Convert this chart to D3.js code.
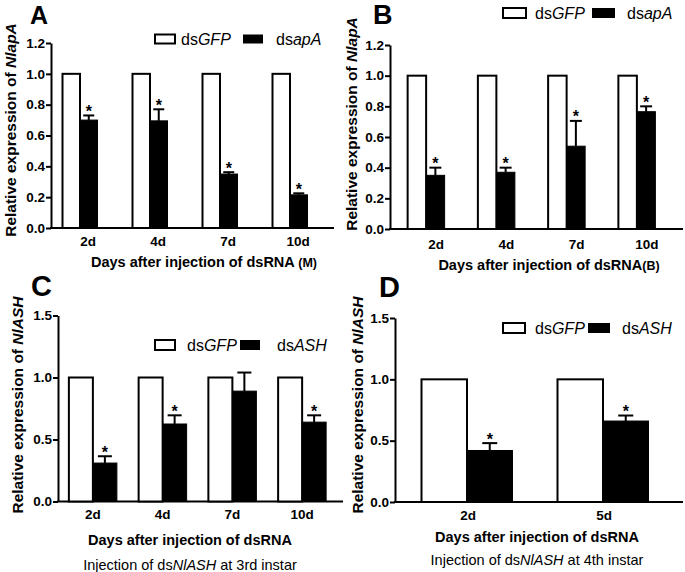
<!DOCTYPE html>
<html>
<head>
<meta charset="utf-8">
<script src="https://cdn.jsdelivr.net/npm/d3@7"></script>
<style>
  body { margin: 0; background: #fff; }
  svg { font-family: Arial, "Liberation Sans", Helvetica, sans-serif; }
  .axis text { font-weight: bold; font-size: 13.5px; fill: #000; }
  .axis path, .axis line { stroke: #000; stroke-width: 2px; }
</style>
</head>
<body>
<svg id="chart" width="685" height="572"></svg>
<script>
// categories
const daysABC = ["2d", "4d", "7d", "10d"];
const daysD = ["2d", "5d"];
const ticksAB = [0, 0.2, 0.4, 0.6, 0.8, 1.0, 1.2];
const ticksCD = [0, 0.5, 1.0, 1.5];

// series values
const gfpABC = [1, 1, 1, 1];
const gfpD = [1, 1];
const apaM = [0.70, 0.695, 0.35, 0.215];
const apaMErr = [0.03, 0.075, 0.012, 0.01];
const apaB = [0.35, 0.37, 0.54, 0.765];
const apaBErr = [0.05, 0.03, 0.165, 0.035];
const ash3 = [0.31, 0.625, 0.89, 0.64];
const ash3Err = [0.055, 0.07, 0.15, 0.055];
const ash3Sig = [true, true, false, true];
const ash4 = [0.42, 0.66];
const ash4Err = [0.06, 0.045];
const sig4 = [true, true, true, true];

const svg = d3.select("#chart");

function panel(p) {
  const g = svg.append("g");

  const y = d3.scaleLinear().domain([0, p.ymax]).range([p.y0, p.y1]);
  const x = d3.scaleBand().domain(p.cats).range(p.xr).padding(0);
  const bw = p.bw;

  const rows = p.cats.map((c, i) => ({ c: c, gfp: p.gfp[i], kd: p.kd[i], err: p.err[i], sig: p.sig[i] }));

  // Y AXIS
  g.append("g")
    .attr("class", "axis")
    .attr("transform", "translate(" + p.xl + ",0)")
    .call(d3.axisLeft(y).tickValues(p.ticks).tickFormat(d3.format(".1f"))
      .tickSize(5).tickSizeOuter(0).tickPadding(1));

  // X AXIS line + labels
  g.append("line")
    .attr("x1", p.xl - 1).attr("x2", p.xend)
    .attr("y1", y(0)).attr("y2", y(0))
    .attr("stroke", "#000").attr("stroke-width", 2);

  const xa = g.append("g")
    .attr("class", "axis")
    .attr("transform", "translate(" + p.labDx + "," + p.y0 + ")")
    .call(d3.axisBottom(x).tickSize(0).tickPadding(p.labPad));
  xa.select(".domain").remove();

  // control bars (white)
  g.selectAll(".gfp")
    .data(rows)
    .enter().append("rect")
    .attr("class", "gfp")
    .attr("x", d => x(d.c) + x.bandwidth() / 2 - bw)
    .attr("y", d => y(d.gfp))
    .attr("width", bw)
    .attr("height", d => y(0) - y(d.gfp))
    .attr("fill", "#fff").attr("stroke", "#000").attr("stroke-width", 2);

  // knockdown bars (black)
  g.selectAll(".kd")
    .data(rows)
    .enter().append("rect")
    .attr("class", "kd")
    .attr("x", d => x(d.c) + x.bandwidth() / 2)
    .attr("y", d => y(d.kd))
    .attr("width", bw)
    .attr("height", d => y(0) - y(d.kd))
    .attr("fill", "#000").attr("stroke", "#000").attr("stroke-width", 1);

  // error bars
  const cx = d => x(d.c) + x.bandwidth() / 2 + bw / 2;
  g.selectAll(".err")
    .data(rows)
    .enter().append("line")
    .attr("x1", cx).attr("x2", cx)
    .attr("y1", d => y(d.kd)).attr("y2", d => y(d.kd + d.err))
    .attr("stroke", "#000").attr("stroke-width", 2);
  g.selectAll(".cap")
    .data(rows)
    .enter().append("line")
    .attr("x1", d => cx(d) - p.cap / 2).attr("x2", d => cx(d) + p.cap / 2)
    .attr("y1", d => y(d.kd + d.err)).attr("y2", d => y(d.kd + d.err))
    .attr("stroke", "#000").attr("stroke-width", 2);

  // significance stars
  g.selectAll(".star")
    .data(rows.filter(d => d.sig))
    .enter().append("text")
    .attr("class", "star")
    .attr("x", cx)
    .attr("y", d => y(d.kd + d.err) + 1.5)
    .attr("text-anchor", "middle")
    .style("font-size", "16px").style("font-weight", "bold")
    .text("*");

  // legend
  const lg = g.append("g");
  lg.append("rect").attr("x", p.leg[0]).attr("y", p.legY - p.box[1] / 2)
    .attr("width", p.box[0]).attr("height", p.box[1])
    .attr("fill", "#fff").attr("stroke", "#000").attr("stroke-width", 2);
  lg.append("rect").attr("x", p.leg[2]).attr("y", p.legY - p.box[1] / 2)
    .attr("width", p.box[0]).attr("height", p.box[1])
    .attr("fill", "#000");
  const t1 = lg.append("text").attr("x", p.leg[1]).attr("y", p.legY + 5.5).style("font-size", "16px");
  t1.append("tspan").text("ds");
  t1.append("tspan").style("font-style", "italic").text("GFP");
  const t2 = lg.append("text").attr("x", p.leg[3]).attr("y", p.legY + 5.5).style("font-size", "16px");
  t2.append("tspan").text("ds");
  t2.append("tspan").style("font-style", "italic").text(p.kdName);

  // y title
  const yt = g.append("text")
    .attr("transform", "translate(" + p.ytx + "," + p.yty + ") rotate(-90)")
    .attr("text-anchor", "middle")
    .attr("dy", "0.35em")
    .style("font-size", "15.5px").style("font-weight", "bold");
  yt.append("tspan").text(p.yPre);
  yt.append("tspan").style("font-style", "italic").text(p.gene);

  // x title
  const xt = g.append("text")
    .attr("x", p.xtx).attr("y", p.xty)
    .attr("text-anchor", "middle")
    .style("font-size", "14.5px").style("font-weight", "bold");
  xt.append("tspan").text("Days after injection of dsRNA");
  if (p.suffix) xt.append("tspan").style("font-size", "12.5px").text(p.suffix);

  if (p.instar) {
    const st = g.append("text")
      .attr("x", p.xtx).attr("y", p.sty)
      .attr("text-anchor", "middle")
      .style("font-size", "14.5px");
    st.append("tspan").text("Injection of ds");
    st.append("tspan").style("font-style", "italic").text("NlASH");
    st.append("tspan").text(" at " + p.instar + " instar");
  }

  // panel letter
  g.append("text")
    .attr("x", p.lx).attr("y", p.ly)
    .style("font-size", p.lsize + "px").style("font-weight", "bold")
    .text(p.letter);
}

panel({
  letter: "A", lx: 30, ly: 24, lsize: 25,
  cats: daysABC, gfp: gfpABC, kd: apaM, err: apaMErr, sig: sig4, kdName: "apA",
  ymax: 1.2, ticks: ticksAB, y0: 228, y1: 43,
  xl: 51, xend: 334, xr: [45, 325], bw: 17.5, cap: 11, labDx: 8, labPad: 8,
  leg: [155, 181, 243, 276], legY: 39, box: [20, 9],
  yPre: "Relative expression of  ", gene: "NlapA", ytx: 11, yty: 130,
  xtx: 204, xty: 267, suffix: " (M)"
});

panel({
  letter: "B", lx: 373, ly: 24, lsize: 27,
  cats: daysABC, gfp: gfpABC, kd: apaB, err: apaBErr, sig: sig4, kdName: "apA",
  ymax: 1.2, ticks: ticksAB, y0: 229, y1: 45,
  xl: 390, xend: 683, xr: [391, 672], bw: 18.5, cap: 12, labDx: 10, labPad: 10,
  leg: [503, 535, 592, 627], legY: 13, box: [23, 10],
  yPre: "Relative expression of  ", gene: "NlapA", ytx: 352, yty: 124,
  xtx: 549, xty: 270, suffix: "(B)"
});

panel({
  letter: "C", lx: 31, ly: 296, lsize: 29,
  cats: daysABC, gfp: gfpABC, kd: ash3, err: ash3Err, sig: ash3Sig, kdName: "ASH",
  ymax: 1.5, ticks: ticksCD, y0: 501.5, y1: 315.5,
  xl: 58, xend: 343, xr: [58, 337], bw: 24, cap: 14, labDx: 0, labPad: 8,
  leg: [155, 187, 240, 277], legY: 345, box: [20, 10],
  yPre: "Relative expression of ", gene: "NlASH", ytx: 18, yty: 405,
  xtx: 190, xty: 545, sty: 570, instar: "3rd"
});

panel({
  letter: "D", lx: 379, ly: 297, lsize: 29,
  cats: daysD, gfp: gfpD, kd: ash4, err: ash4Err, sig: sig4, kdName: "ASH",
  ymax: 1.5, ticks: ticksCD, y0: 502, y1: 318,
  xl: 395, xend: 683, xr: [399, 671], bw: 45.5, cap: 15, labDx: 1, labPad: 8,
  leg: [503, 535, 588, 622], legY: 328, box: [22, 10],
  yPre: "Relative expression of ", gene: "NlASH", ytx: 358, yty: 405,
  xtx: 537, xty: 542, sty: 565, instar: "4th"
});
</script>
</body>
</html>
